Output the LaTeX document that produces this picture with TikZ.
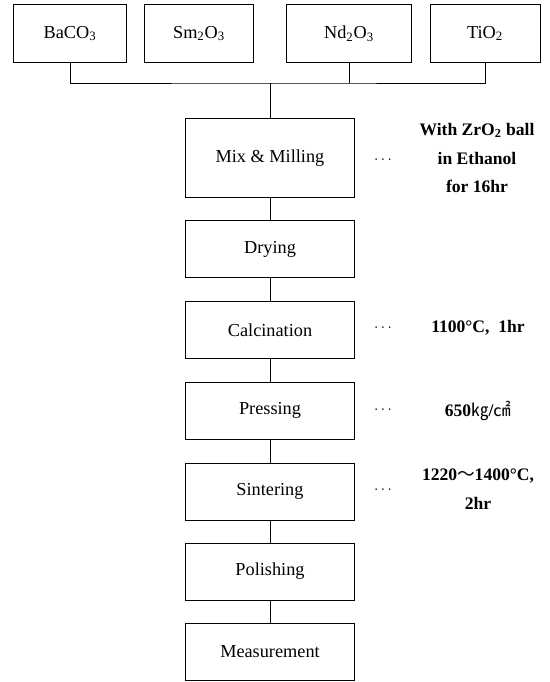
\documentclass[tikz,border=0pt]{standalone}
\usepackage{fontspec}
\setmainfont{Liberation Serif}
\newfontfamily\cjk{Noto Sans CJK KR}
\usepackage{tikz}
\usetikzlibrary{calc}

\tikzset{
  rawbox/.style={draw, line width=0.7pt, minimum height=1.425cm, inner sep=0pt,
    font=\fontsize{13}{15}\selectfont},
  stepbox/.style={draw, line width=0.7pt, minimum width=4.2cm, minimum height=1.425cm,
    inner sep=0pt, font=\fontsize{13}{15}\selectfont},
  note/.style={align=center, font=\fontsize{12.5}{20.5}\selectfont\bfseries},
  dots/.style={font=\fontsize{11}{13}\selectfont},
  link/.style={line width=0.7pt}
}

\begin{document}
\begin{tikzpicture}[x=0.025cm, y=-0.025cm]
    \useasboundingbox (0,0) rectangle (550,682);

    % Define raw powders
    \node[rawbox, minimum width=2.8cm] (ba) at (70,33.5) {BaCO\textsubscript{3}};
    \node[rawbox, minimum width=2.7cm] (sm) at (199,33.5) {Sm\textsubscript{2}O\textsubscript{3}};
    \node[rawbox, minimum width=3.1cm] (nd) at (349,33.5) {Nd\textsubscript{2}O\textsubscript{3}};
    \node[rawbox, minimum width=2.75cm] (ti) at (485,33.5) {TiO\textsubscript{2}};

    % Define process steps
    \node[stepbox, minimum height=1.95cm] (mix) at (270,158) {Mix \& Milling};
    \node[stepbox] (dry) at (270,249) {Drying};
    \node[stepbox] (cal) at (270,330) {Calcination};
    \node[stepbox] (pre) at (270,410.5) {Pressing};
    \node[stepbox] (sin) at (270,491.5) {Sintering};
    \node[stepbox] (pol) at (270,571.5) {Polishing};
    \node[stepbox] (mea) at (270,651.5) {Measurement};

    % Conditions
    \node[dots] (d1) at (383,160) {$\cdots$};
    \node[note] (c1) at (477,158) {With ZrO\textsubscript{2} ball\\in Ethanol\\for 16hr};
    \node[dots] (d2) at (383,328) {$\cdots$};
    \node[note] (c2) at (478,328) {1100°C,\ \ 1hr};
    \node[dots] (d3) at (383,410) {$\cdots$};
    \node[note] (c3) at (478,411) {650{\cjk\mdseries ㎏}/{\cjk\mdseries ㎠}};
    \node[dots] (d4) at (383,490) {$\cdots$};
    \node[note] (c4) at (478,489) {1220{\cjk\mdseries ～}1400°C,\\2hr};

    % Join the powders
    \coordinate (join) at (270,83);
    \draw[link] (ba.south) |- (join) -| (ti.south);
    \draw[link] (nd.south) -- (nd.south |- join);
    \draw[link] (join) -- (mix.north);

    % Process flow
    \draw[link] (mix) -- (dry);
    \draw[link] (dry) -- (cal);
    \draw[link] (cal) -- (pre);
    \draw[link] (pre) -- (sin);
    \draw[link] (sin) -- (pol);
    \draw[link] (pol) -- (mea);

  \end{tikzpicture}
\end{document}
